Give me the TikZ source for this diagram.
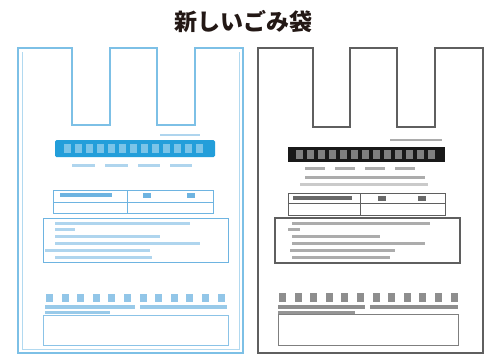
\documentclass[tikz,border=0pt]{standalone}
\usepackage{fontspec}
\newfontfamily\cjk{Noto Sans CJK JP}
\definecolor{bagbl}{RGB}{125,192,230}
\definecolor{barbl}{RGB}{35,158,218}
\definecolor{txtbl}{RGB}{110,180,225}
\definecolor{bagbk}{RGB}{95,95,95}
\definecolor{txtbk}{RGB}{105,105,105}
\definecolor{ttl}{RGB}{35,24,21}
\tikzset{
  bagline/.style={line width=1.8pt, line join=miter},
  boxline/.style={line width=0.8pt},
  tline/.style={opacity=0.55},
}
\begin{document}
\begin{tikzpicture}[x=1pt,y=-1pt]
\useasboundingbox[fill=white] (0,0) rectangle (487,360);
\node[font=\cjk\bfseries\fontsize{23}{23}\selectfont, text=ttl] (title) at (243,22) {新しいごみ袋};

% ---------- left (blue) bag ----------
\draw[bagline, draw=bagbl] (18,48) -- (72,48) -- (72,125) -- (110,125) -- (110,48)
  -- (157,48) -- (157,125) -- (195,125) -- (195,48) -- (243,48) -- (243,353) -- (18,353) -- cycle;
\draw[line width=0.5pt, draw=bagbl!60] (22,52) -- (22,349) -- (239,349) -- (239,52);
\fill[txtbl, tline] (160,133.5) rectangle (200,136);
\fill[barbl, rounded corners=1.5pt] (55,140) rectangle (215,157);
\foreach \i in {0,...,12} {\fill[white, opacity=0.4] ({64+\i*11},144) rectangle ({71+\i*11},153);}
\foreach \a/\b in {72/95,105/128,138/160,170/192} {\fill[txtbl, tline] (\a,163.5) rectangle (\b,166.5);}
\draw[boxline, draw=txtbl] (53,190) rectangle (213,213);
\draw[boxline, draw=txtbl] (127,190) -- (127,213) (53,202) -- (213,202);
\fill[txtbl] (60,193) rectangle (112,197);
\fill[txtbl] (143,193) rectangle (151,198);
\fill[txtbl] (187,193) rectangle (195,198);
\draw[boxline, draw=txtbl] (43,218) rectangle (228,262);
\foreach \y/\a/\b in {222/55/190,228/55/75,235/55/160,242/55/200,249/45/150,256/55/152} {\fill[txtbl, tline] (\a,\y) rectangle (\b,{\y+2.5});}
\foreach \i in {0,...,11} {\fill[txtbl, opacity=0.75] ({46+\i*15.6},294) rectangle ({53+\i*15.6},302);}
\fill[txtbl, opacity=0.7] (45,305) rectangle (135,309);
\fill[txtbl, opacity=0.7] (140,305) rectangle (227,309);
\fill[txtbl, opacity=0.7] (45,311) rectangle (110,313.5);
\draw[boxline, draw=txtbl!80] (43,315) rectangle (228,345);

% ---------- right (black) bag ----------
\draw[bagline, line width=1.2pt, draw=bagbk] (258,48) -- (313,48) -- (313,127) -- (350,127) -- (350,48)
  -- (397,48) -- (397,127) -- (435,127) -- (435,48) -- (483,48) -- (483,353) -- (258,353) -- cycle;
\fill[txtbk, tline] (390,138.5) rectangle (442,141);
\fill[black!90] (288,147) rectangle (445,162);
\foreach \i in {0,...,12} {\fill[white, opacity=0.45] ({296+\i*11},150) rectangle ({303+\i*11},159);}
\foreach \a/\b in {305/325,335/355,365/385,395/415} {\fill[txtbk, tline] (\a,166.5) rectangle (\b,169.5);}
\fill[txtbk, tline] (305,175.5) rectangle (425,178.5);
\fill[txtbk, opacity=0.35] (300,183) rectangle (428,185.5);
\draw[boxline, draw=bagbk] (288,193) rectangle (445,215);
\draw[boxline, draw=bagbk] (360,193) -- (360,215) (288,203) -- (445,203);
\fill[txtbk] (293,196) rectangle (352,199.5);
\fill[txtbk] (378,196) rectangle (386,201);
\fill[txtbk] (418,196) rectangle (426,201);
\draw[line width=1.2pt, draw=bagbk] (275,218) rectangle (460,263);
\foreach \y/\a/\b in {222/292/430,228/288/300,235/292/380,242/292/425,249/290/395,256/292/390} {\fill[txtbk, tline] (\a,\y) rectangle (\b,{\y+2.5});}
\foreach \i in {0,...,11} {\fill[txtbk, opacity=0.75] ({279+\i*15.6},293) rectangle ({286+\i*15.6},302);}
\fill[txtbk, opacity=0.75] (278,305) rectangle (365,309);
\fill[txtbk, opacity=0.75] (370,305) rectangle (458,309);
\fill[txtbk, opacity=0.7] (278,311) rectangle (355,313.5);
\draw[boxline, draw=bagbk!80] (278,314) rectangle (458,345);
\end{tikzpicture}
\end{document}
